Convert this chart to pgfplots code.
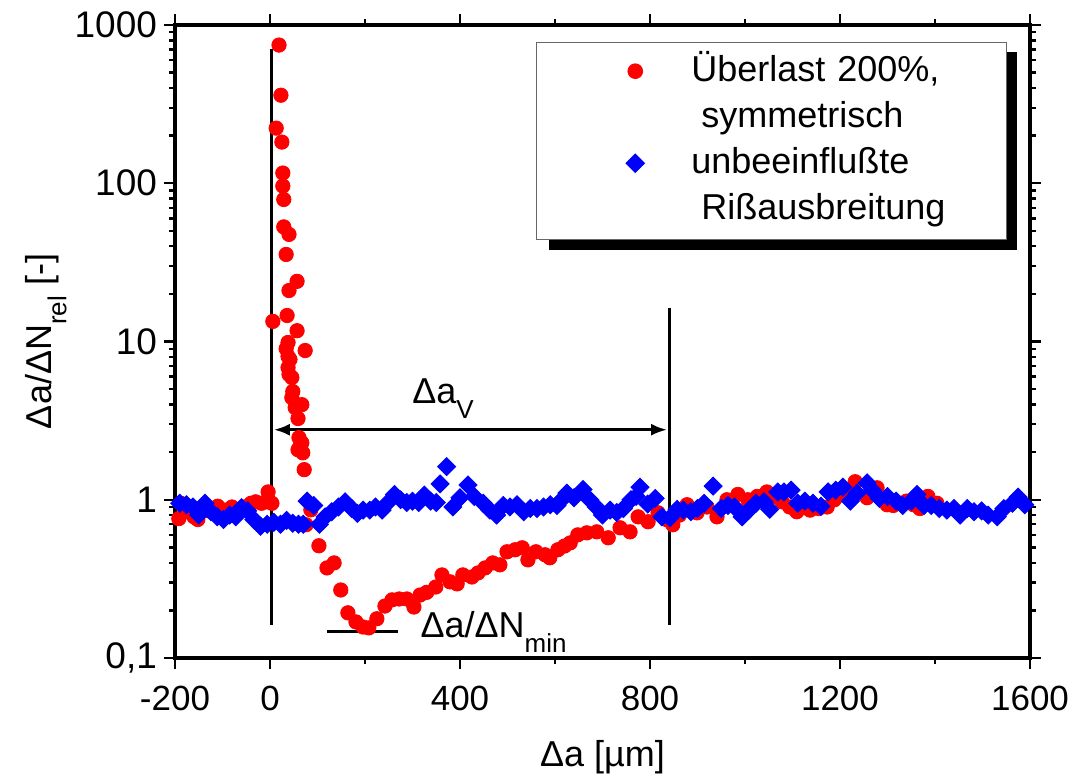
\documentclass[border=0pt]{standalone}
\usepackage{fontspec}
\setmainfont{Liberation Sans}
\usepackage{pgfplots}
\usepackage{pgfplotstable}
\pgfplotsset{compat=1.18}
\usetikzlibrary{arrows.meta}
\newcommand{\sub}[1]{\raisebox{-0.40em}{\fontsize{13}{13}\selectfont #1}}

\pgfplotstableread{
x y
-192 0.76
-188 0.95
-175 0.84
-160 0.78
-152 0.75
-140 0.86
-128 0.85
-110 0.91
-95 0.86
-80 0.90
-68 0.86
-55 0.90
-40 0.95
-30 0.97
-18 0.95
-8 0.97
-4 1.12
4 0.95
6 13.4
13 223
19 747
23 360
25 182
27 116
27 96
29 79
29 53
34 35.5
40 47.5
57 24
40 21
36 14.6
57 11.7
38 9.86
74 8.77
34 9.0
42 7.7
38 8.04
38 6.84
40 6.2
46 5.92
48 4.83
46 4.42
67 3.99
53 3.82
59 3.26
61 2.47
67 2.29
63 2.16
59 2.07
69 1.98
72 1.55
76 0.695
86 0.864
103 0.512
120 0.371
135 0.399
149 0.269
164 0.193
181 0.169
196 0.157
208 0.155
225 0.177
242 0.213
257 0.233
272 0.236
288 0.236
303 0.21
316 0.25
330 0.26
349 0.281
362 0.335
379 0.303
394 0.294
406 0.335
425 0.325
438 0.345
453 0.371
469 0.399
484 0.388
499 0.469
516 0.483
531 0.497
543 0.417
560 0.469
579 0.449
589 0.43
606 0.483
620 0.51
632 0.534
648 0.600
667 0.618
688 0.627
712 0.575
737 0.665
758 0.627
775 0.78
796 0.726
817 0.827
836 0.747
848 0.695
862 0.80
878 0.93
899 0.827
920 0.9
941 0.78
962 1.0
985 1.08
1006 1.0
1026 1.05
1046 1.12
1062 1.05
1078 0.97
1094 0.90
1109 0.84
1137 0.86
1155 0.88
1173 0.9
1188 1.0
1200 1.07
1216 1.15
1232 1.3
1257 1.03
1278 1.19
1299 0.93
1312 0.92
1326 0.95
1340 0.98
1355 0.93
1368 0.88
1385 1.05
1404 0.95
}\redtable

\pgfplotstableread{
x y
-190 0.95
-176 0.93
-162 0.90
-150 0.80
-137 0.95
-124 0.84
-111 0.78
-98 0.75
-85 0.80
-72 0.78
-60 0.89
-47 0.85
-34 0.75
-20 0.68
-6 0.70
8 0.72
22 0.70
35 0.74
48 0.71
60 0.70
70 0.70
78 0.98
92 0.92
104 0.70
116 0.78
130 0.84
144 0.90
158 0.97
172 0.88
184 0.82
196 0.86
210 0.86
222 0.90
236 0.86
250 0.97
262 1.08
275 1.00
288 0.96
300 0.98
313 0.96
325 1.07
338 0.98
350 0.96
358 1.26
372 1.62
385 0.90
400 1.03
417 1.24
430 1.05
449 0.95
463 0.86
477 0.80
491 0.92
505 0.90
520 0.93
534 0.84
548 0.88
562 0.88
576 0.90
590 0.93
604 0.92
614 1.00
625 1.10
640 1.03
659 1.16
673 1.00
687 0.90
700 0.80
716 0.86
730 0.83
744 0.88
760 1.00
771 1.05
779 1.20
795 0.94
811 1.02
825 0.78
842 0.77
857 0.87
870 0.86
886 0.84
900 0.88
914 0.95
933 1.22
950 0.88
964 0.92
978 0.90
994 0.78
1008 0.86
1023 0.95
1040 0.97
1052 0.87
1069 1.12
1082 1.12
1097 1.15
1111 0.95
1126 0.98
1143 0.95
1160 0.91
1175 1.12
1191 1.15
1206 1.20
1222 0.98
1236 1.10
1257 1.28
1268 1.15
1283 1.02
1300 1.05
1318 0.98
1332 0.92
1350 0.98
1362 1.08
1377 0.92
1392 0.92
1409 0.88
1425 0.86
1440 0.88
1453 0.80
1468 0.88
1482 0.84
1498 0.85
1512 0.80
1531 0.78
1545 0.88
1563 0.95
1575 1.04
1589 0.93
}\bluetable

\begin{document}
\begin{tikzpicture}
\begin{axis}[
  scale only axis, width=427.5pt, height=316.5pt,
  xmin=-200, xmax=1600, ymode=log, ymin=0.1, ymax=1000,
  xtick={-200,0,400,800,1200,1600},
  xticklabels={-200,0,400,800,1200,1600},
  minor xtick={200,600,1000,1400},
  ytick={0.1,1,10,100,1000},
  yticklabels={{0,1},1,10,100,1000},
  tick align=outside,
  major tick length=5.5pt, minor tick length=3pt,
  every tick/.style={black, line width=1.2pt},
  axis line style={line width=1.6pt},
  ticklabel style={font=\fontsize{17.5}{20}\selectfont},
  yticklabel style={font=\fontsize{18.5}{20}\selectfont},
  xticklabel style={yshift=-5pt},
  xlabel={Δa [µm]}, ylabel={Δa/ΔN\sub{rel} [-]},
  label style={font=\fontsize{18}{22}\selectfont},
  xlabel style={at={(axis description cs:0.5,-0.172)}, anchor=base},
  ylabel style={at={(axis description cs:-0.144,0.5)}, anchor=base},
  clip=false,
  legend cell align=left,
  legend style={at={(0.973,0.973)}, anchor=north east, draw=black!60, line width=0.6pt, fill=white,
    inner xsep=0pt, inner ysep=6.5pt, row sep=6.5pt, column sep=23.5pt,
    nodes={inner sep=0pt, text width=157.5pt, align=left, text height=13pt, text depth=3.5pt, font=\fontsize{18}{21}\selectfont}},
  legend image code/.code={\path[draw=none, fill=none] (-49.5pt,0pt) -- (3.5pt,0pt); \draw[#1] plot coordinates {(0pt,0.5pt)};},
]
\fill[black] (rel axis cs:0.4374,0.6445) rectangle (rel axis cs:0.9848,0.9573);
\addplot[only marks, mark=*, mark size=3.6pt, color=red] table {\redtable};
\addlegendentry{Überlast 200\%,}
\addlegendimage{empty legend}
\addlegendentry{\hspace*{5pt}symmetrisch}
\addplot[only marks, mark=square*, mark size=3.2pt, color=blue, mark options={rotate=45}] table {\bluetable};
\addlegendentry{unbeeinflußte}
\addlegendimage{empty legend}
\addlegendentry{\hspace*{5pt}Rißausbreitung}
\draw[line width=1.5pt] (axis cs:3,705) -- (axis cs:3,0.162);
\draw[line width=1.5pt] (axis cs:840,16.4) -- (axis cs:840,0.162);
\draw[line width=1.5pt, {Latex[length=8pt,width=6pt]}-{Latex[length=8pt,width=6pt]}] (axis cs:8,2.77) -- (axis cs:836,2.77);
\draw[line width=1.5pt] (axis cs:120,0.146) -- (axis cs:269,0.146);
\node[anchor=base west, inner sep=0pt, font=\fontsize{18}{21}\selectfont] at (axis cs:299,4.05) {Δa\sub{V}};
\node[anchor=base west, inner sep=0pt, font=\fontsize{18}{21}\selectfont] at (axis cs:316,0.134) {Δa/ΔN\sub{min}};
\end{axis}
\pgfresetboundingbox
\useasboundingbox (-87.5pt,-61.5pt) rectangle (450pt,329pt);
\end{tikzpicture}
\end{document}
